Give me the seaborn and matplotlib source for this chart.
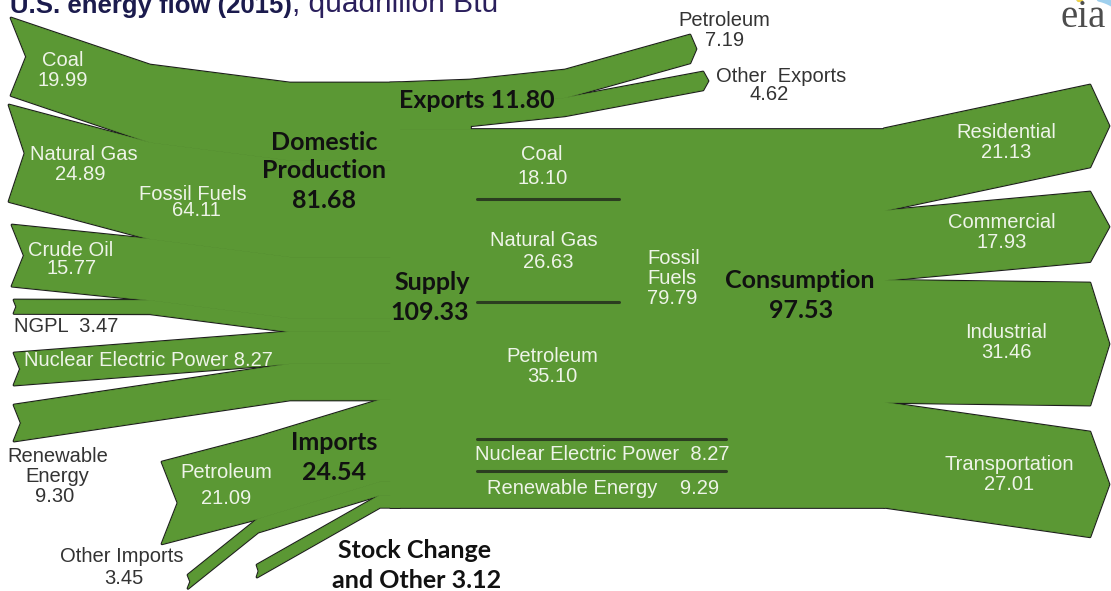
"""
U.S. energy flow (2015), quadrillion Btu -- sankey-style redraw.
"""

import numpy as np
import pandas as pd
import matplotlib
matplotlib.use("Agg")
import matplotlib.pyplot as plt
from matplotlib.patches import Polygon
import seaborn as sns

# ── data (quadrillion Btu) ──
prod_names = ["Coal", "Natural Gas", "Crude Oil", "NGPL", "Nuclear Electric Power", "Renewable Energy"]
prod_vals = [19.99, 24.89, 15.77, 3.47, 8.27, 9.30]
fossil_prod = 64.11
domestic_total = 81.68

import_names = ["Petroleum", "Other Imports"]
import_vals = [21.09, 3.45]
imports_total = 24.54
stock_other = 3.12
supply_total = 109.33

export_names = ["Petroleum", "Other  Exports"]
export_vals = [7.19, 4.62]
exports_total = 11.80

fuel_names = ["Coal", "Natural Gas", "Petroleum", "Nuclear Electric Power", "Renewable Energy"]
fuel_vals = [18.10, 26.63, 35.10, 8.27, 9.29]
fossil_cons = 79.79

sector_names = ["Residential", "Commercial", "Industrial", "Transportation"]
sector_vals = [21.13, 17.93, 31.46, 27.01]
consumption_total = 97.53

# ── layout (pixel space of the 1111x591 picture) ──
K = 3.88            # px per quadrillion Btu
TOP = 83            # top of the supply trunk
GREEN = "#5b9834"
EDGE = "#1c1c1c"
WHITE = "#eef4e8"
GREY = "#333333"
ARIAL = "Liberation Sans"
BOLD = "Lato"

prod_tails = [(11, 18), (9, 105), (12, 225), (14, 300), (14, 353), (14, 405)]
import_tails = [(162, 462), (188, 575)]
stock_tail = (257, 565)
sector_end_tops = [85, 192, 283, 432]

sns.set_theme(style="white")
plt.rcParams["font.family"] = [ARIAL, "DejaVu Sans"]

fig = plt.figure(figsize=(11.11, 5.91), dpi=100)
ax = fig.add_axes([0, 0, 1, 1])
ax.set_xlim(0, 1111)
ax.set_ylim(591, 0)
ax.axis("off")


def band(pts, w, tail=0.0, head=0.0):
    """Polygon of a band of constant vertical thickness w along top-edge points."""
    top = [(x, y) for x, y in pts]
    bot = [(x, y + w) for x, y in pts][::-1]
    poly = list(top)
    if head:
        poly.append((pts[-1][0] + head, pts[-1][1] + w / 2))
    poly += bot
    if tail:
        poly.append((pts[0][0] + tail, pts[0][1] + w / 2))
    return poly


polys = []

# domestic production
cum = 0.0
for i, v in enumerate(prod_vals):
    w = K * v
    tx, ty = prod_tails[i]
    if i < 4:
        pts = [(tx, ty), (150, 65 + K * cum), (290, TOP + K * cum), (400, TOP + K * cum)]
    else:
        pts = [(tx, ty), (290, TOP + K * cum), (400, TOP + K * cum)]
    polys.append(band(pts, w, tail=min(16, 0.2 * w)))
    cum += v

# imports + stock change
y_imp = TOP + K * cum
cum_i = 0.0
for j, v in enumerate(import_vals):
    w = K * v
    tx, ty = import_tails[j]
    pts = [(tx, ty), (258, 437 + K * cum_i), (380, y_imp + K * cum_i), (400, y_imp + K * cum_i)]
    polys.append(band(pts, w, tail=min(16, 0.2 * w)))
    cum_i += v
y_stock = y_imp + K * imports_total
polys.append(band([stock_tail, (380, y_stock), (400, y_stock)], K * stock_other, tail=2))

# trunk
y_cons = TOP + K * exports_total
polys.append(band([(390, y_cons), (884, y_cons)], K * consumption_total))
polys.append(band([(390, TOP), (470, TOP)], K * exports_total))

# exports
pet_pts = [(390, TOP), (470, 80), (565, 70), (690, 35)]
polys.append(band(pet_pts, K * export_vals[0], head=6))
oth_pts = [(x, y + K * export_vals[0]) for x, y in pet_pts[:3]] + [(703, 72)]
polys.append(band(oth_pts, K * export_vals[1], head=5))

# end-use sectors
cum_s = 0.0
for i, v in enumerate(sector_vals):
    pts = [(884, y_cons + K * cum_s), (1090, sector_end_tops[i])]
    polys.append(band(pts, K * v, head=19))
    cum_s += v

# outlines below, fills on top -> only outer boundaries keep a dark line
for p in polys:
    ax.add_patch(Polygon(p, closed=True, fill=False, edgecolor=EDGE, lw=2.0,
                         joinstyle="round", zorder=1))
for p in polys:
    ax.add_patch(Polygon(p, closed=True, facecolor=GREEN, edgecolor=GREEN, lw=0.5,
                         zorder=2))

# separators between fuels inside the trunk
sep_y = y_cons + K * np.cumsum(fuel_vals)[:4]
sep_x1 = [619, 619, 726, 726]
sep = pd.DataFrame({
    "x": np.ravel([[477, x1] for x1 in sep_x1]),
    "y": np.repeat(sep_y, 2),
    "line": np.repeat(fuel_names[:4], 2),
})
sns.lineplot(data=sep, x="x", y="y", units="line", estimator=None, color="#2b3d20",
             lw=2.2, ax=ax, legend=False, zorder=3)
ax.set_xlim(0, 1111)
ax.set_ylim(591, 0)
ax.axis("off")


def lab(x, y, s, color=WHITE, size=14.5, family=ARIAL, weight="normal", ha="center"):
    ax.text(x, y, s, color=color, fontsize=size, family=family, fontweight=weight,
            ha=ha, va="center", zorder=4)


# white labels on the bands
lab(63, 60, prod_names[0]); lab(63, 81, f"{prod_vals[0]:.2f}")
lab(84, 155, prod_names[1]); lab(80, 174, f"{prod_vals[1]:.2f}")
lab(71, 250, prod_names[2]); lab(72, 269, f"{prod_vals[2]:.2f}")
lab(193, 194, "Fossil Fuels"); lab(196, 211, f"{fossil_prod:.2f}")
lab(148, 360, f"{prod_names[4]} {prod_vals[4]:.2f}")
lab(226, 473, import_names[0]); lab(226, 498, f"{import_vals[0]:.2f}")

lab(542, 155, fuel_names[0]); lab(543, 178, f"{fuel_vals[0]:.2f}")
lab(544, 240, fuel_names[1]); lab(548, 262, f"{fuel_vals[1]:.2f}")
lab(552, 357, fuel_names[2]); lab(552, 376, f"{fuel_vals[2]:.2f}")
lab(602, 455, f"{fuel_names[3]}  {fuel_vals[3]:.2f}")
lab(603, 488, f"{fuel_names[4]}    {fuel_vals[4]:.2f}")
lab(647, 258, "Fossil", ha="left"); lab(647, 278, "Fuels", ha="left")
lab(647, 298, f"{fossil_cons:.2f}", ha="left")

sector_lab_xy = [(1006, 132), (1002, 223), (1006, 333), (1009, 465)]
for (x, y), n, v in zip(sector_lab_xy, sector_names, sector_vals):
    lab(x, y, n)
    lab(x, y + 20, f"{v:.2f}")

# grey labels outside the bands
lab(724, 20, export_names[0], GREY); lab(725, 40, f"{export_vals[0]:.2f}", GREY)
lab(781, 76, export_names[1], GREY); lab(769, 95, f"{export_vals[1]:.2f}", GREY)
lab(14, 327, f"{prod_names[3]}  {prod_vals[3]:.2f}", GREY, ha="left")
lab(58, 457, "Renewable", GREY); lab(57, 477, "Energy", GREY)
lab(55, 497, f"{prod_vals[5]:.2f}", GREY)
lab(122, 556, import_names[1], GREY); lab(124, 578, f"{import_vals[1]:.2f}", GREY)

# bold node labels
nb = dict(color="#111111", size=18, family=BOLD, weight="bold")
lab(324, 142, "Domestic", **nb); lab(324, 171, "Production", **nb)
lab(324, 201, f"{domestic_total:.2f}", **nb)
lab(477, 100, f"Exports {exports_total:.2f}", **nb)
lab(432, 283, "Supply", **nb); lab(430, 312, f"{supply_total:.2f}", **nb)
lab(800, 280, "Consumption", **nb); lab(801, 310, f"{consumption_total:.2f}", **nb)
lab(334, 443, "Imports", **nb); lab(334, 473, f"{imports_total:.2f}", **nb)
lab(414, 550, "Stock Change", **nb)
lab(417, 580, f"and Other {stock_other:.2f}", **nb)

# title (cut by the top edge, as in the source image)
t1 = ax.text(10, 12.5, "U.S. energy flow (2015)", fontsize=18.5, fontweight="bold",
             family=ARIAL, color="#1b1b4d", va="baseline", ha="left")
fig.canvas.draw()
bb = t1.get_window_extent()
x_end = ax.transData.inverted().transform((bb.x1, bb.y0))[0]
ax.text(x_end, 12.5, ", quadrillion Btu", fontsize=21.5, family=ARIAL,
        color="#2a1f5c", va="baseline", ha="left")

# eia logo
ang = np.linspace(np.pi * 0.58, np.pi * 0.2, 60)
ax.plot(1090 + 44 * np.cos(ang), 42 - 44 * np.sin(ang), color="#9fd0ee", lw=4, zorder=0)
ax.plot(1090 + 44 * np.cos(ang[:18]), 42 - 44 * np.sin(ang[:18]), color="#f2d44a", lw=4, zorder=0)
ax.text(1083, 27, "eia", fontsize=28, family="Liberation Serif", color="#4d4d4d",
        ha="center", va="baseline")

fig.savefig("out.png", dpi=100, facecolor="white")
plt.close(fig)
